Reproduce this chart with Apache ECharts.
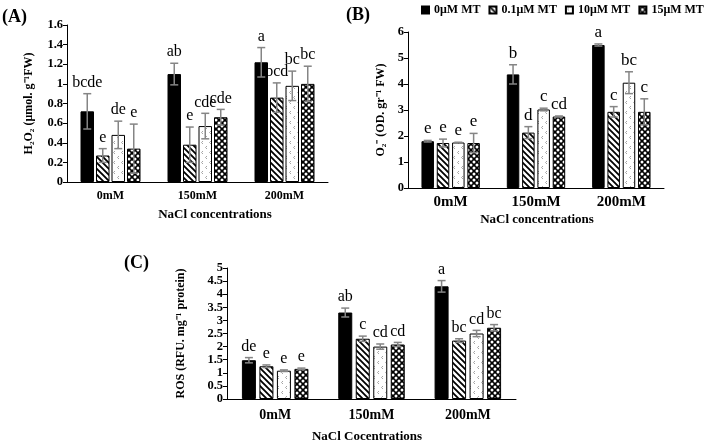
<!DOCTYPE html>
<html>
<head>
<meta charset="utf-8">
<script src="https://cdn.jsdelivr.net/npm/echarts@6/dist/echarts.min.js"></script>
<style>html,body{margin:0;padding:0;background:#fff}#main{width:708px;height:447px}</style>
</head>
<body>
<div id="main"></div>
<script>
var treatments = ['0μM MT', '0.1μM MT', '10μM MT', '15μM MT'];
var salts = ['0mM', '150mM', '200mM'];

// (A) H2O2 - one row per treatment, one value per NaCl level
var h2o2 = [[0.72, 1.10, 1.22], [0.27, 0.38, 0.86], [0.48, 0.57, 0.98], [0.34, 0.66, 1.00]];
var h2o2Err = [[0.18, 0.11, 0.15], [0.07, 0.18, 0.15], [0.14, 0.13, 0.15], [0.25, 0.08, 0.18]];
var h2o2Sig = [['bcde', 'ab', 'a'], ['e', 'e', 'bcd'], ['de', 'cde', 'bc'], ['e', 'cde', 'bc']];

// (B) O2-
var o2 = [[1.80, 4.37, 5.50], [1.73, 2.13, 2.93], [1.75, 3.02, 4.05], [1.73, 2.75, 2.93]];
var o2Err = [[0.03, 0.37, 0.04], [0.15, 0.23, 0.20], [0.01, 0.05, 0.42], [0.37, 0.02, 0.50]];
var o2Sig = [['e', 'b', 'a'], ['e', 'd', 'c'], ['e', 'c', 'bc'], ['e', 'cd', 'c']];

// (C) ROS
var ros = [[1.48, 3.30, 4.30], [1.25, 2.30, 2.23], [1.08, 2.00, 2.50], [1.15, 2.08, 2.72]];
var rosErr = [[0.10, 0.17, 0.22], [0.05, 0.10, 0.07], [0.03, 0.10, 0.12], [0.03, 0.08, 0.12]];
var rosSig = [['de', 'ab', 'a'], ['e', 'c', 'bc'], ['e', 'cd', 'cd'], ['e', 'cd', 'bc']];

var serif = '"Liberation Serif", "Times New Roman", serif';

// fill patterns like the Excel ones
function pattern(kind) {
  var c = document.createElement('canvas');
  var ctx;
  if (kind === 'hatch') {
    c.width = 6; c.height = 6;
    ctx = c.getContext('2d');
    ctx.fillStyle = '#fff'; ctx.fillRect(0, 0, 6, 6);
    ctx.strokeStyle = '#000'; ctx.lineWidth = 1.8;
    ctx.beginPath();
    ctx.moveTo(-1, -1); ctx.lineTo(7, 7);
    ctx.moveTo(-1, 5); ctx.lineTo(1, 7);
    ctx.moveTo(5, -1); ctx.lineTo(7, 1);
    ctx.stroke();
  } else if (kind === 'dots') {
    c.width = 8; c.height = 10;
    ctx = c.getContext('2d');
    ctx.fillStyle = '#fff'; ctx.fillRect(0, 0, 8, 10);
    ctx.strokeStyle = '#9a9a9a'; ctx.lineWidth = 0.9;
    ctx.beginPath();
    ctx.moveTo(3, 1); ctx.lineTo(1.5, 2.5); ctx.lineTo(3, 4);
    ctx.moveTo(7, 6); ctx.lineTo(5.5, 7.5); ctx.lineTo(7, 9);
    ctx.stroke();
  } else {
    c.width = 6; c.height = 6;
    ctx = c.getContext('2d');
    ctx.fillStyle = '#000'; ctx.fillRect(0, 0, 6, 6);
    ctx.fillStyle = '#fff';
    var pts = [[0, 0], [6, 0], [0, 6], [6, 6], [3, 3]];
    pts.forEach(function (p) {
      ctx.beginPath(); ctx.arc(p[0], p[1], 1.5, 0, Math.PI * 2); ctx.fill();
    });
  }
  return { image: c, repeat: 'repeat' };
}
var fills = ['#000', pattern('hatch'), pattern('dots'), pattern('checker')];

var panels = [
  { vals: h2o2, err: h2o2Err, sig: h2o2Sig, max: 1.6, interval: 0.2, bw: 13.5, gap: 2, sigSize: 16, catSize: 12,
    grid: { left: 67, right: 380, top: 25, bottom: 265 },
    yName: 'H₂O₂ (μmol. g⁻¹FW)', yGap: 32, catMargin: 8 },
  { vals: o2, err: o2Err, sig: o2Sig, max: 6, interval: 1, bw: 12.5, gap: 2.8, sigSize: 17, catSize: 15,
    grid: { left: 408, right: 44, top: 32, bottom: 259 },
    yName: 'O₂⁻ (OD. gr⁻¹ FW)', yGap: 21, catMargin: 7 },
  { vals: ros, err: rosErr, sig: rosSig, max: 5, interval: 0.5, bw: 14, gap: 3.5, sigSize: 16, catSize: 14,
    grid: { left: 227, right: 192, top: 268, bottom: 48 },
    yName: 'ROS (RFU. mg⁻¹ protein)', yGap: 40, catMargin: 9 }
];

var grids = [], xAxes = [], yAxes = [], series = [];

panels.forEach(function (p, pi) {
  grids.push(p.grid);
  xAxes.push({
    type: 'category', gridIndex: pi, data: salts,
    axisLine: { lineStyle: { color: '#000', width: 1 } },
    axisTick: { length: 5, lineStyle: { color: '#000' } },
    axisLabel: { color: '#000', fontFamily: serif, fontWeight: 'bold', fontSize: p.catSize, margin: p.catMargin }
  });
  yAxes.push({
    type: 'value', gridIndex: pi, min: 0, max: p.max, interval: p.interval,
    name: p.yName, nameLocation: 'middle', nameGap: p.yGap, nameRotate: 90,
    nameTextStyle: { color: '#000', fontFamily: serif, fontWeight: 'bold', fontSize: 12 },
    axisLine: { show: true, lineStyle: { color: '#000', width: 1 } },
    axisTick: { show: true, length: 4, lineStyle: { color: '#000' } },
    splitLine: { show: false },
    axisLabel: { color: '#000', fontFamily: serif, fontWeight: 'bold', fontSize: 12.5, margin: 4 }
  });
  var gapPct = (p.gap / p.bw * 100) + '%';
  treatments.forEach(function (name, t) {
    series.push({
      type: 'bar', name: name, xAxisIndex: pi, yAxisIndex: pi,
      data: p.vals[t], barWidth: p.bw, barGap: gapPct,
      itemStyle: { color: fills[t], borderColor: '#000', borderWidth: 1 },
      silent: true
    });
  });
  // error bars and significance letters
  var eb = [], letters = [];
  for (var t = 0; t < 4; t++) {
    for (var c = 0; c < salts.length; c++) {
      eb.push([c, p.vals[t][c], p.err[t][c], t]);
      letters.push(p.sig[t][c]);
    }
  }
  var step = p.bw + p.gap;
  series.push({
    type: 'custom', name: 'err' + pi, xAxisIndex: pi, yAxisIndex: pi, z: 5, silent: true,
    data: eb,
    renderItem: function (params, api) {
      var c = api.value(0), v = api.value(1), e = api.value(2), t = api.value(3);
      var x = api.coord([c, v])[0] + (t - 1.5) * step;
      var yTop = api.coord([c, v + e])[1];
      var yBot = api.coord([c, v - e])[1];
      var ls = { stroke: '#858585', lineWidth: 1.5 };
      return {
        type: 'group',
        children: [
          { type: 'line', shape: { x1: x, y1: yTop, x2: x, y2: yBot }, style: ls },
          { type: 'line', shape: { x1: x - 4, y1: yTop, x2: x + 4, y2: yTop }, style: ls },
          { type: 'line', shape: { x1: x - 4, y1: yBot, x2: x + 4, y2: yBot }, style: ls },
          { type: 'text', x: x, y: yTop - 3,
            style: { text: letters[params.dataIndex], align: 'center', verticalAlign: 'bottom',
              fill: '#000', fontFamily: serif, fontSize: p.sigSize } }
        ]
      };
    }
  });
});

function txt(text, x, y, size, align) {
  return { type: 'text', x: x, y: y,
    style: { text: text, fill: '#000', fontFamily: serif, fontWeight: 'bold', fontSize: size,
      align: align || 'center', verticalAlign: 'middle' } };
}

var myChart = echarts.init(document.getElementById('main'));
var option = {
  animation: false,
  grid: grids,
  xAxis: xAxes,
  yAxis: yAxes,
  legend: {
    data: treatments, left: 421, top: 4, width: 300, padding: 0, orient: 'horizontal',
    icon: 'rect', itemWidth: 7, itemHeight: 7, itemGap: 8,
    textStyle: { color: '#000', fontFamily: serif, fontWeight: 'bold', fontSize: 12 }
  },
  graphic: [
    txt('(A)', 2, 17, 18, 'left'),
    txt('(B)', 346, 15, 18, 'left'),
    txt('(C)', 124, 263, 18, 'left'),
    txt('NaCl concentrations', 215, 215, 13),
    txt('NaCl concentrations', 537, 220, 13),
    txt('NaCl Cocentrations', 367, 437, 13)
  ],
  series: series
};
myChart.setOption(option);
</script>
</body>
</html>
